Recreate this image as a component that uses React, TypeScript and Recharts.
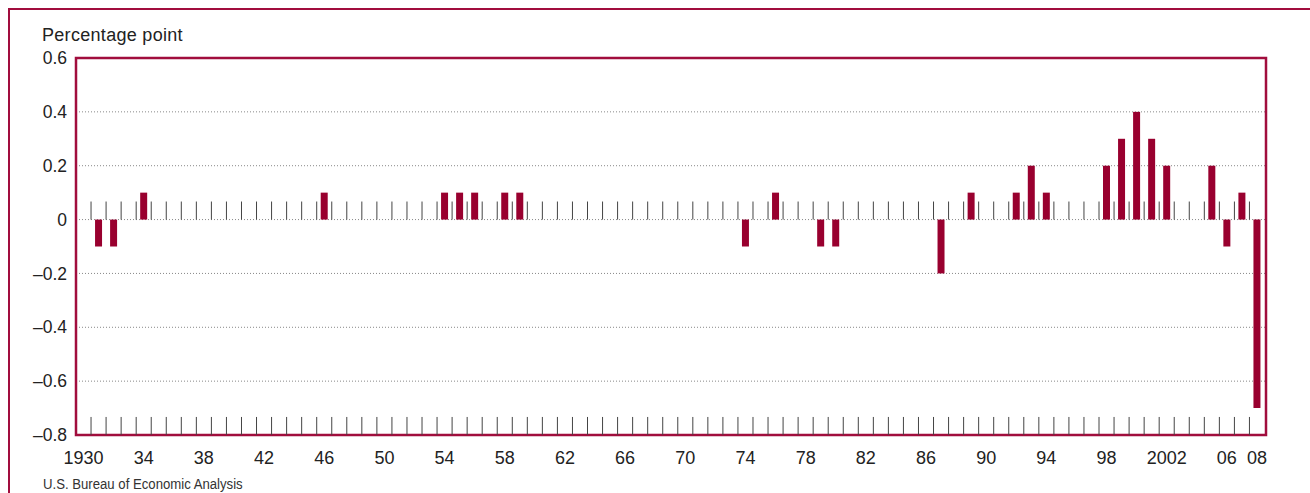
import { BarChart, Bar, XAxis, YAxis, CartesianGrid, ReferenceLine, ReferenceArea } from 'recharts';

// years on the x axis
const years = [
  1930, 1931, 1932, 1933, 1934, 1935, 1936, 1937, 1938, 1939,
  1940, 1941, 1942, 1943, 1944, 1945, 1946, 1947, 1948, 1949,
  1950, 1951, 1952, 1953, 1954, 1955, 1956, 1957, 1958, 1959,
  1960, 1961, 1962, 1963, 1964, 1965, 1966, 1967, 1968, 1969,
  1970, 1971, 1972, 1973, 1974, 1975, 1976, 1977, 1978, 1979,
  1980, 1981, 1982, 1983, 1984, 1985, 1986, 1987, 1988, 1989,
  1990, 1991, 1992, 1993, 1994, 1995, 1996, 1997, 1998, 1999,
  2000, 2001, 2002, 2003, 2004, 2005, 2006, 2007, 2008,
];

// percentage point, one per year
const values = [
  0, -0.1, -0.1, 0, 0.1, 0, 0, 0, 0, 0,
  0, 0, 0, 0, 0, 0, 0.1, 0, 0, 0,
  0, 0, 0, 0, 0.1, 0.1, 0.1, 0, 0.1, 0.1,
  0, 0, 0, 0, 0, 0, 0, 0, 0, 0,
  0, 0, 0, 0, -0.1, 0, 0.1, 0, 0, -0.1,
  -0.1, 0, 0, 0, 0, 0, 0, -0.2, 0, 0.1,
  0, 0, 0.1, 0.2, 0.1, 0, 0, 0, 0.2, 0.3,
  0.4, 0.3, 0.2, 0, 0, 0.2, -0.1, 0.1, -0.7,
];

const yTicks = [-0.8, -0.6, -0.4, -0.2, 0, 0.2, 0.4, 0.6];
const yearLabels = [1930, 1934, 1938, 1942, 1946, 1950, 1954, 1958, 1962, 1966, 1970, 1974, 1978, 1982, 1986, 1990, 1994, 1998, 2002, 2006, 2008];

const data = years.map((year, i) => ({ year, value: values[i] }));
// small marks sit on the boundaries between years
const boundaries = years.slice(1).map((y) => y - 0.5);

const RED = '#99002f';
const FRAME = '#a10d3d';
const FONT = '"Liberation Sans", Arial, sans-serif';
const TICK_LEN = 0.067;
const X_MIN = 1929.5;
const X_MAX = 2008.6;

const fmtYear = (y: number) => (y === 1930 || y === 2002 ? String(y) : String(y).slice(2));
const fmtVal = (v: number) => (v < 0 ? '\u2013' + Math.abs(v).toFixed(1) : v === 0 ? '0' : v.toFixed(1));

export default function App() {
  return (
    <div style={{ position: 'absolute', left: 0, top: 0, width: 1310, height: 493, overflow: 'hidden', background: '#fff', fontFamily: FONT }}>
      <div style={{ position: 'absolute', left: 8, top: 8, width: 1400, height: 600, border: `2.5px solid ${FRAME}` }} />
      <div style={{ position: 'absolute', left: 42, top: 25, fontSize: 18, color: '#222', whiteSpace: 'nowrap', letterSpacing: 0.3 }}>
        Percentage point
      </div>
      <div
        style={{
          position: 'absolute',
          left: 43,
          top: 476,
          fontSize: 14,
          color: '#333',
          whiteSpace: 'nowrap',
          transform: 'scaleX(0.94)',
          transformOrigin: 'left top',
        }}
      >
        U.S. Bureau of Economic Analysis
      </div>
      <div style={{ position: 'absolute', left: 0, top: 0 }}>
        <BarChart width={1310} height={493} data={data} margin={{ top: 58, right: 44, bottom: 28, left: 16 }}>
          <CartesianGrid vertical={false} stroke="#888" strokeDasharray="1 2" />
          <XAxis
            dataKey="year"
            type="number"
            domain={[X_MIN, X_MAX]}
            ticks={yearLabels}
            interval={0}
            tickFormatter={fmtYear}
            tickLine={false}
            axisLine={false}
            tickSize={0}
            tickMargin={16}
            height={30}
            tick={{ fill: '#222', fontSize: 18, fontFamily: FONT }}
          />
          <YAxis
            type="number"
            domain={[-0.8, 0.6]}
            ticks={yTicks}
            interval={0}
            tickFormatter={fmtVal}
            tickLine={false}
            axisLine={false}
            tickSize={0}
            tickMargin={9}
            width={60}
            tick={{ fill: '#222', fontSize: 17.5, fontFamily: FONT }}
          />
          {boundaries.map((b) => (
            <ReferenceLine key={'z' + b} segment={[{ x: b, y: 0 }, { x: b, y: TICK_LEN }]} stroke="#444" strokeWidth={1} />
          ))}
          {boundaries.map((b) => (
            <ReferenceLine key={'b' + b} segment={[{ x: b, y: -0.8 }, { x: b, y: -0.8 + TICK_LEN }]} stroke="#444" strokeWidth={1} />
          ))}
          <Bar dataKey="value" fill={RED} barSize={7} isAnimationActive={false} />
          <ReferenceArea x1={X_MIN} x2={X_MAX} y1={-0.8} y2={0.6} fill="none" stroke={FRAME} strokeWidth={2.5} ifOverflow="visible" />
        </BarChart>
      </div>
    </div>
  );
}
